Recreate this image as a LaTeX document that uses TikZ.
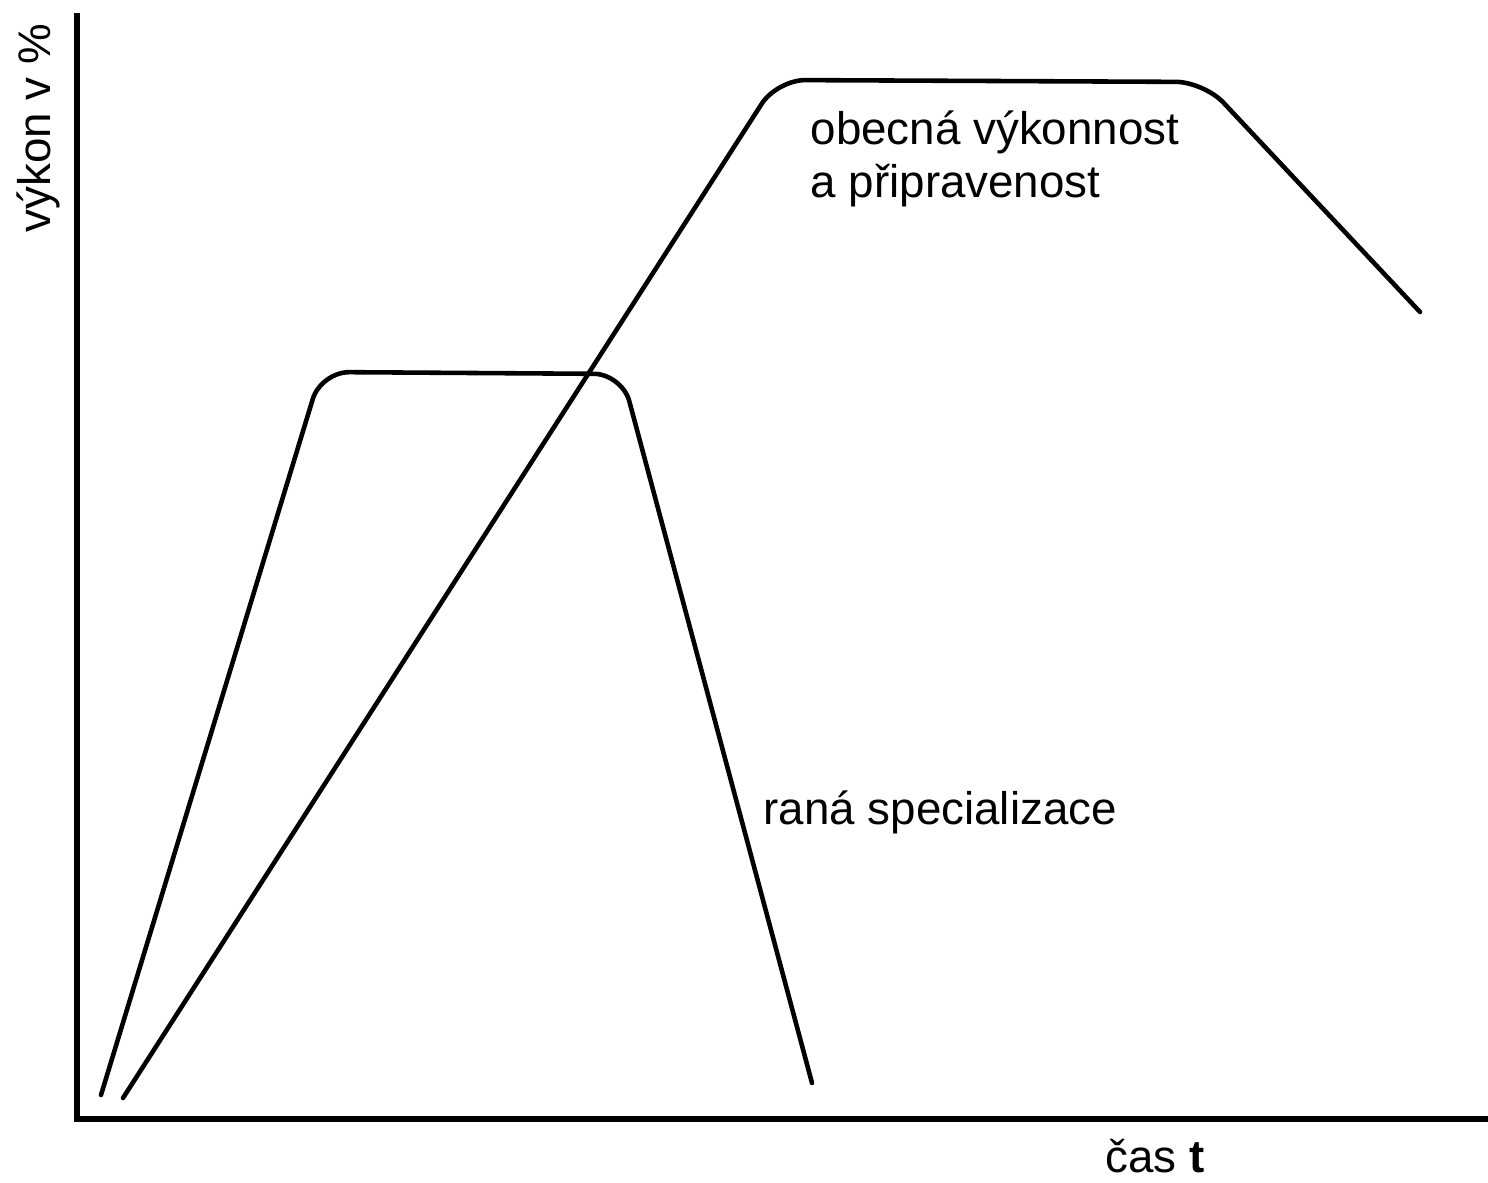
\documentclass[tikz,border=0pt]{standalone}
\usepackage{fontspec}
\setmainfont{Liberation Sans}
\tikzset{>=latex, axis/.style = {line width=1.45pt, line join=miter},%
		curve/.style={line width=1.3pt, rounded corners=8pt, line cap=round},
        lbl/.style={inner sep=0pt, anchor=base west, font=\fontsize{13}{15.5}\selectfont}}
\begin{document}
\begin{tikzpicture}[x=0.01cm,y=-0.01cm]
    \useasboundingbox (0,0) rectangle (1488,1183);
    \draw[axis] (77,13) -- (77,1119) -- (1488,1119);
    \draw[curve] (101,1095) -- (321,372) -- (622,374) -- (812,1083);
    \draw[curve] (123,1098) -- (777,80) -- (1204,82) -- (1420,312);
    \node[lbl] (gen1) at (810,145) {obecná výkonnost};
    \node[lbl] (gen2) at (810,198) {a připravenost};
    \node[lbl] (spec) at (763,825) {raná specializace};
    \node[lbl] (time) at (1105,1172) {čas \textbf{t}};
    \node[lbl, anchor=base, rotate=90] (perf) at (50,128) {výkon v \%};
  \end{tikzpicture}
\end{document}
